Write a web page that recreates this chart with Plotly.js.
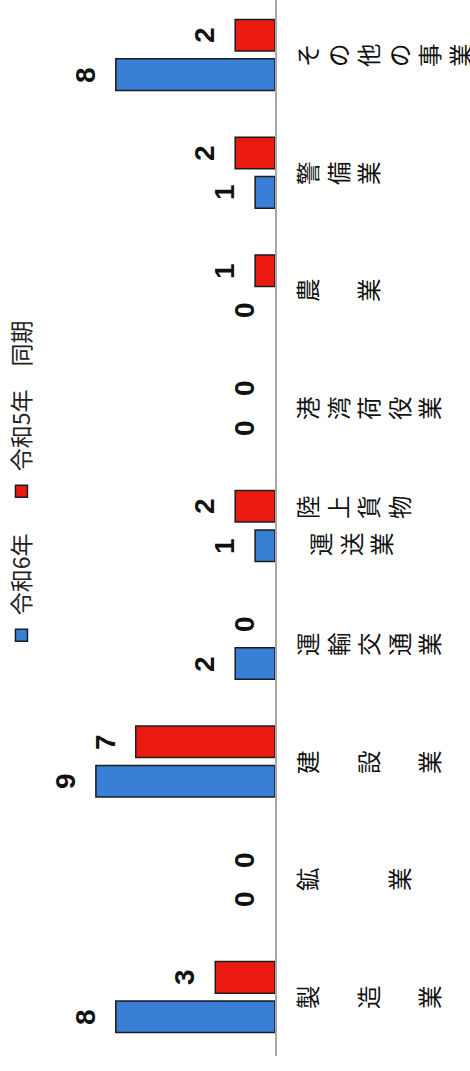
<!DOCTYPE html>
<html>
<head>
<meta charset="utf-8">
<script src="https://cdn.plot.ly/plotly-3.0.1.min.js"></script>
<style>
html,body{margin:0;padding:0;background:#fff;width:470px;height:1071px;overflow:hidden;}
#chart{position:absolute;left:0;top:0;width:1075px;height:470px;transform-origin:0 0;transform:translate(0px,1071px) rotate(-90deg);}
</style>
</head>
<body>
<div id="chart"></div>
<script>
// ---- data ----
const categories = ['製造業','鉱業','建設業','運輸交通業','陸上貨物運送業','港湾荷役業','農業','警備業','その他の事業'];
// label columns (vertical writing); full-width space = blank line
const categoryLabels = [
  ['製　造　業'],
  ['鉱　　業'],
  ['建　設　業'],
  ['運輸交通業'],
  ['陸上貨物','運送業'],
  ['港湾荷役業'],
  ['農　業'],
  ['警備業'],
  ['その他の事業']
];
const seriesNames = ['令和6年', '令和5年　同期'];
const valuesR6 = [8, 0, 9, 2, 1, 0, 0, 1, 8];
const valuesR5 = [3, 0, 7, 0, 2, 0, 1, 2, 2];

// ---- styles ----
const colors = ['#3a7fd6', '#ea1a10'];
const seriesValues = [valuesR6, valuesR5];
const jpFont = 'Noto Sans CJK JP, sans-serif';
const legendIds = ['legend', 'legend2'];

const traces = seriesValues.map((vals, s) => ({
  type: 'bar',
  name: seriesNames[s],
  legend: legendIds[s],
  x: categories,
  y: vals,
  marker: {color: colors[s], line: {color: '#1c1c1c', width: vals.map(v => v === 0 ? 0 : 1.5)}},
  hoverinfo: 'skip'
}));

const annotations = [];
// value labels
seriesValues.forEach((vals, s) => {
  vals.forEach((v, i) => {
    annotations.push({
      x: categories[i], y: v, xref: 'x', yref: 'y',
      text: '<b>' + v + '</b>', showarrow: false,
      yanchor: 'bottom', xanchor: 'center',
      xshift: s === 0 ? -19.75 : 19.75, yshift: 13,
      font: {family: 'Liberation Sans, Arial, sans-serif', size: 28, color: '#111'}
    });
  });
});
// category labels (vertical text)
categoryLabels.forEach((cols, i) => {
  cols.forEach((col, k) => {
    const lines = Array.from(col);
    annotations.push({
      x: categories[i], y: 0, xref: 'x', yref: 'y',
      text: lines.join('<br>'), showarrow: false,
      yanchor: 'top', xanchor: 'center', align: 'center',
      xshift: cols.length > 1 ? (k === 0 ? 18.5 : -18.5) : 0,
      yshift: -13 - (k > 0 ? 13 : 0),
      font: {family: jpFont, size: 23.5, color: '#111'}
    });
  });
});

const legendBase = {
  orientation: 'h', xanchor: 'left', y: 1.275, yanchor: 'middle',
  font: {family: jpFont, size: 23, color: '#222'},
  bgcolor: 'rgba(0,0,0,0)', borderwidth: 0
};

const layout = {
  width: 1075, height: 470,
  margin: {l: 15, r: 0, t: 75, b: 195, pad: 0},
  paper_bgcolor: '#fff', plot_bgcolor: '#fff',
  barmode: 'group', bargap: 0.33, bargroupgap: 0.2,
  showlegend: true,
  legend: Object.assign({}, legendBase, {x: 0.378}),
  legend2: Object.assign({}, legendBase, {x: 0.514}),
  xaxis: {
    type: 'category', range: [-0.5, 8.5], showline: true, linecolor: '#a8a8a8', linewidth: 1.5,
    showticklabels: false, ticks: '', showgrid: false, zeroline: false, fixedrange: true
  },
  yaxis: {range: [0, 10], visible: false, fixedrange: true},
  annotations: annotations
};

Plotly.newPlot('chart', traces, layout, {staticPlot: true, displayModeBar: false});
</script>
</body>
</html>
